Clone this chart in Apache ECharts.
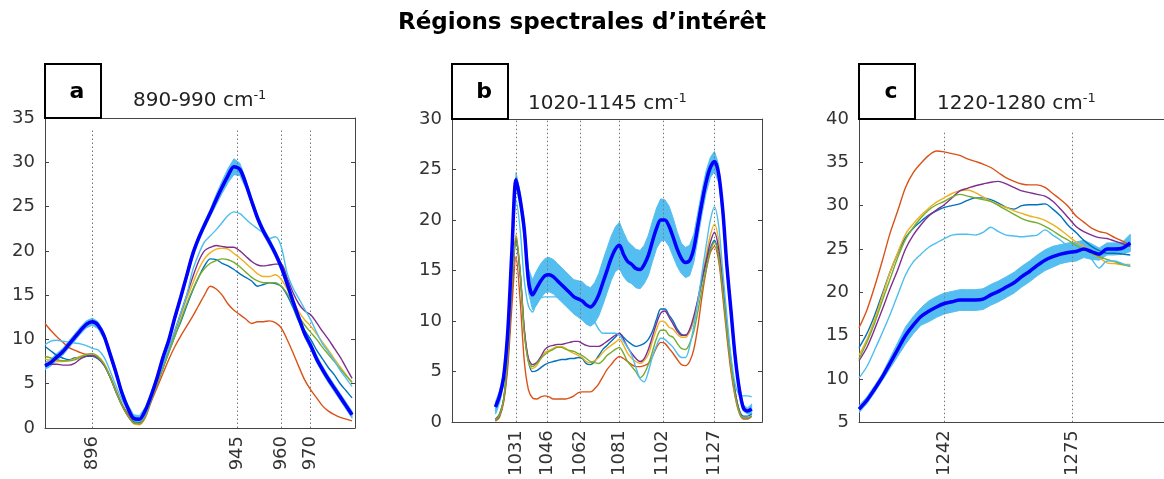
<!DOCTYPE html>
<html><head><meta charset="utf-8">
<script src="https://cdn.jsdelivr.net/npm/echarts@6/dist/echarts.min.js"></script>
<style>html,body{margin:0;padding:0;background:#fff}#c{width:1164px;height:479px}</style>
</head><body><div id="c"></div>
<script>
const FONT = 'DejaVu Sans';

// ---------- Panel a : 880-985 cm-1 ----------
const xA = [880,882,884,886,888,890,892,894,896,898,900,902,904,906,908,910,912,914,916,918,920,922,924,926,928,930,932,934,936,938,940,942,944,946,948,950,952,954,956,958,960,962,964,966,968,970,972,974,976,978,980,982,984];
const ticksA = [896, 945, 960, 970];
const blueA   = [9.2,8.7,8.2,7.9,7.7,7.9,8.0,8.1,8.1,7.8, 7.1,5.8,4.2,2.7,1.6,0.7,0.6,1.5,3.2,5.0, 6.8,8.6,10.4,12.0,13.8,15.5,17.0,18.3,19.1,19.0, 18.6,18.3,17.9,17.4,17.0,16.6,16.0,16.2,16.4,16.3, 16.0,15.0,13.6,12.0,11.0,10.0,8.8,7.8,6.8,6.0, 5.0,4.2,3.4];
const orangeA = [11.8,11.0,10.3,9.7,9.1,8.8,8.5,8.3,8.2,7.9, 7.2,5.8,4.3,2.7,1.6,0.6,0.4,1.2,3.0,4.6, 6.2,7.8,9.2,10.4,11.5,12.6,13.8,15.0,16.0,15.7, 15.0,14.0,13.3,12.8,12.3,11.8,12.0,12.0,12.1,11.9, 11.3,10.0,8.5,6.9,5.4,4.3,3.4,2.5,1.9,1.5, 1.2,1.0,0.8];
const yellowA = [7.8,7.6,7.5,7.5,7.6,7.8,8.1,8.3,8.4,8.1, 7.3,5.9,4.2,2.6,1.4,0.5,0.4,1.3,3.2,5.1, 7.0,8.9,10.8,12.7,14.6,16.3,17.9,19.1,19.8,20.2, 20.3,20.2,19.7,19.2,18.6,18.0,17.4,17.1,17.1,17.3, 16.8,15.7,14.4,13.1,12.2,11.5,10.6,9.7,8.8,7.8, 6.9,6.0,5.1];
const purpleA = [7.3,7.2,7.2,7.1,7.1,7.3,7.8,8.1,8.2,7.9, 7.1,5.8,4.1,2.6,1.4,0.6,0.5,1.4,3.2,5.1, 7.0,9.0,11.0,13.0,15.0,17.0,18.8,20.0,20.4,20.6, 20.5,20.4,20.4,20.0,19.4,18.8,18.4,18.3,18.4,18.5, 18.5,17.0,15.3,14.0,13.2,12.8,11.9,10.9,10.0,9.0, 8.0,6.8,5.6];
const greenA  = [8.1,7.9,7.7,7.6,7.6,7.7,8.0,8.3,8.4,8.0, 7.2,5.8,4.1,2.6,1.4,0.6,0.5,1.4,3.2,5.0, 6.8,8.6,10.4,12.2,14.0,15.6,17.0,18.0,18.6,18.9, 19.1,19.0,18.7,18.2,17.6,17.0,16.6,16.4,16.4,16.4, 16.0,15.2,14.0,12.6,11.6,10.8,10.0,9.1,8.3,7.5, 6.7,5.9,5.2];
const lightA  = [9.4,9.8,9.9,9.8,9.7,9.6,9.5,9.3,9.0,8.8, 8.0,6.5,4.8,3.2,2.0,1.0,0.8,1.6,3.4,5.3, 7.2,9.1,11.0,13.0,15.0,17.8,19.6,21.0,21.7,22.4, 23.2,24.0,24.4,24.2,23.6,23.0,22.5,22.0,21.4,21.6, 20.5,17.5,15.8,14.6,13.4,12.2,10.8,9.5,8.6,7.6, 6.5,5.6,4.7];
const meanA   = [7.0,7.4,8.0,8.6,9.4,10.2,11.0,11.7,12.0,11.6, 10.4,8.4,6.3,4.0,2.3,1.1,1.0,2.0,3.7,5.7, 8.0,10.0,12.5,14.8,17.2,19.6,21.4,22.9,24.3,25.8, 27.2,28.5,29.5,29.2,27.6,25.6,23.7,22.2,21.0,19.7, 18.2,16.3,14.3,12.4,10.6,9.3,7.8,6.6,5.5,4.5, 3.5,2.5,1.5];
const sdA     = [0.4,0.4,0.4,0.4,0.4,0.4,0.4,0.4,0.4,0.4, 0.4,0.4,0.4,0.4,0.4,0.4,0.4,0.4,0.4,0.4, 0.4,0.4,0.4,0.4,0.4,0.4,0.4,0.4,0.4,0.6, 0.7,0.8,0.9,0.7,0.5,0.4,0.4,0.4,0.4,0.4, 0.4,0.4,0.4,0.4,0.4,0.4,0.4,0.4,0.4,0.4, 0.4,0.4,0.4];

// ---------- Panel b : 1020-1145 cm-1 ----------
const xB = [1021,1023,1025,1027,1029,1031,1033,1035,1037,1039,1041,1043,1045,1047,1049,1051,1053,1055,1057,1059,1061,1063,1065,1067,1069,1071,1073,1075,1077,1079,1081,1083,1085,1087,1089,1091,1093,1095,1097,1099,1101,1103,1105,1107,1109,1111,1113,1115,1117,1119,1121,1123,1125,1127,1129,1131,1133,1135,1137,1139,1141,1143,1145];
const ticksB = [1031, 1046, 1062, 1081, 1102, 1127];
const blueB   = [0.3,0.8,2.3,6.5,13.0,18.0,14.5,9.0,6.0,5.0, 5.1,5.4,5.7,5.9,6.0,6.1,6.2,6.2,6.3,6.3, 6.4,6.3,5.8,5.7,6.0,6.6,7.2,7.6,8.0,8.4, 8.8,8.4,8.0,7.7,7.5,7.6,7.8,8.2,9.0,10.2, 11.2,11.2,10.6,10.0,9.2,8.7,8.6,9.0,10.2,12.0, 14.0,15.8,17.2,18.0,16.6,13.5,9.5,6.0,3.0,1.2, 0.6,0.6,0.8];
const orangeB = [0.1,0.5,2.0,5.5,11.5,16.4,12.0,6.0,3.2,2.4, 2.3,2.5,2.6,2.5,2.3,2.3,2.3,2.3,2.4,2.6, 2.9,3.0,3.0,3.0,3.3,3.8,4.5,5.2,5.7,6.2, 6.5,6.3,6.0,5.7,5.5,5.5,5.6,5.8,6.5,7.4, 7.9,7.8,7.3,6.8,6.2,5.7,5.6,6.0,7.2,9.5, 12.5,15.0,16.8,17.4,16.0,12.5,8.5,5.0,2.5,0.9, 0.3,0.3,0.6];
const yellowB = [0.2,0.7,2.3,6.5,13.5,18.6,15.0,9.0,6.0,5.3, 5.6,6.3,6.9,7.1,7.3,7.5,7.5,7.3,7.0,6.8, 6.6,6.4,6.0,5.9,6.1,6.4,6.9,7.3,7.6,7.9, 8.2,7.6,6.8,6.3,6.0,5.8,6.1,6.7,8.0,9.2, 10.0,9.9,9.4,9.2,8.7,8.4,8.4,9.0,10.2,12.0, 14.3,16.5,18.5,19.6,18.0,14.0,9.5,5.8,2.8,1.0, 0.4,0.4,0.6];
const purpleB = [0.2,0.7,2.2,6.2,13.0,18.2,14.8,9.2,6.3,5.7, 5.9,6.5,7.2,7.5,7.6,7.7,7.7,7.8,7.9,8.0, 8.0,7.8,7.6,7.5,7.5,7.5,7.7,8.0,8.3,8.6, 8.8,8.2,7.4,6.8,6.3,6.0,6.3,7.2,8.5,9.8, 10.8,11.0,10.4,9.7,9.0,8.6,8.6,9.2,10.5,12.2, 14.2,16.0,17.8,18.8,17.2,13.8,9.5,6.0,3.0,1.1, 0.4,0.4,0.6];
const greenB  = [0.2,0.7,2.2,6.5,13.5,18.4,14.8,8.8,6.0,5.5, 5.8,6.3,6.7,7.0,7.2,7.4,7.4,7.2,7.1,7.0, 6.8,6.6,6.3,6.0,5.9,5.8,6.1,6.6,6.9,7.2, 7.4,6.8,6.0,5.5,5.0,4.4,4.8,5.7,7.0,8.3, 9.1,9.1,8.6,8.4,7.8,7.3,7.2,7.8,9.0,11.0, 13.2,15.2,17.0,17.8,16.4,13.0,9.0,5.6,2.7,1.0, 0.4,0.4,0.6];
const lightB  = [0.8,2.0,4.0,8.0,16.0,22.0,19.0,14.0,11.5,10.9, 12.0,12.3,12.4,12.4,12.4,12.4,12.3,12.2,12.1,12.0, 11.8,11.5,11.0,10.4,9.9,9.2,8.8,8.8,8.8,8.8, 8.6,8.0,7.4,6.6,5.4,4.3,4.0,5.0,6.5,7.6, 8.3,8.2,7.8,7.4,6.8,6.4,6.4,7.5,9.5,12.0, 14.8,17.5,20.0,21.3,19.5,15.0,10.5,6.5,3.8,2.7, 2.6,2.6,2.5];
const meanB   = [1.5,2.6,4.5,9.0,17.0,24.0,22.0,19.0,14.0,12.6, 13.3,14.0,14.5,14.6,14.4,14.0,13.6,13.2,12.8,12.4, 12.2,12.0,11.6,11.4,11.8,12.6,13.8,15.0,16.2,17.1, 17.5,16.6,15.9,15.6,15.2,15.1,15.6,16.5,17.9,19.2, 20.0,20.0,19.4,18.3,17.1,16.2,15.8,16.0,17.2,19.5, 21.8,23.8,25.2,25.8,24.6,21.0,15.5,11.0,6.5,3.3, 1.4,1.1,1.3];
const sdB     = [0.5,0.5,0.5,0.5,0.6,0.7,0.7,0.9,1.2,1.5, 1.7,1.7,1.7,1.7,1.7,1.7,1.7,1.7,1.7,1.7, 1.8,1.9,1.9,1.9,2.0,2.1,2.2,2.2,2.2,2.2, 2.3,2.2,2.0,1.9,1.9,1.9,1.9,2.0,2.0,2.0, 2.1,2.0,2.0,1.9,1.7,1.5,1.5,1.5,1.4,1.3, 1.2,1.1,1.0,1.0,0.9,0.8,0.7,0.6,0.5,0.4, 0.3,0.3,0.5];

// ---------- Panel c : 1220-1290 cm-1 ----------
const xC = [1220,1222,1224,1226,1228,1230,1232,1234,1236,1238,1240,1242,1244,1246,1248,1250,1252,1254,1256,1258,1260,1262,1264,1266,1268,1270,1272,1274,1276,1278,1280,1282,1284,1286,1288,1290];
const ticksC = [1242, 1275];
const blueC   = [13.6,15.2,17.3,19.8,22.3,24.5,26.3,27.4,28.2,28.9, 29.4,29.8,30.0,30.2,30.6,30.9,30.9,30.7,30.3,29.8, 29.6,30.0,30.1,30.1,30.2,29.6,28.8,27.7,26.9,26.0, 25.3,24.8,24.5,24.5,24.4,24.3];
const orangeC = [15.9,17.9,20.6,23.6,26.8,29.4,32.1,33.8,34.9,35.8, 36.3,36.2,36.0,35.8,35.4,35.1,34.8,34.4,33.8,33.2, 32.8,32.5,32.4,32.4,32.1,31.4,30.7,29.9,28.8,28.1, 27.4,27.0,26.8,26.3,25.9,25.4];
const yellowC = [12.7,14.5,16.8,19.5,22.3,24.6,26.7,27.9,28.9,29.7, 30.4,30.9,31.4,31.7,31.8,31.5,31.0,30.5,30.1,29.8, 29.4,29.1,28.8,28.6,28.3,27.8,27.2,26.5,25.8,25.3, 24.5,24.0,23.4,23.3,23.2,23.2];
const purpleC = [12.1,13.6,15.7,18.0,20.4,22.6,25.0,26.6,27.8,28.8, 29.5,30.1,30.9,31.7,32.0,32.3,32.5,32.7,32.8,32.5, 32.1,31.7,31.5,31.3,31.1,30.5,29.6,28.6,27.6,27.0, 26.6,26.3,26.2,25.9,25.6,25.3];
const greenC  = [12.3,14.2,16.4,19.0,21.5,24.0,26.1,27.5,28.6,29.5, 30.1,30.5,31.0,31.3,31.1,30.9,30.7,30.5,30.0,29.5, 29.0,28.5,28.2,28.0,27.6,27.1,26.5,26.0,25.4,24.9, 24.5,24.1,23.8,23.5,23.2,23.0];
const lightC  = [10.1,11.4,13.3,15.3,17.4,19.7,22.0,23.5,24.4,25.2, 25.7,26.2,26.6,26.7,26.7,26.6,26.9,27.5,27.0,26.6, 26.5,26.4,26.5,26.6,27.2,26.6,26.0,25.3,24.8,24.4, 23.8,22.8,23.6,23.6,23.3,23.0];
const meanC   = [6.5,7.5,8.8,10.2,11.8,13.4,15.0,16.2,17.2,17.8, 18.3,18.7,18.9,19.1,19.1,19.1,19.2,19.7,20.1,20.6, 21.1,21.8,22.4,23.1,23.7,24.1,24.4,24.6,24.7,25.0, 24.7,24.4,25.0,25.0,25.1,25.7];
const sdC     = [0.4,0.4,0.4,0.4,0.6,0.8,1.0,1.0,1.0,1.2, 1.2,1.2,1.2,1.2,1.2,1.2,1.2,1.2,1.2,1.2, 1.2,1.2,1.2,1.2,1.2,1.2,1.1,1.1,1.1,1.0, 0.9,0.7,0.7,0.7,0.7,1.0];

const COLORS = ['#0072BD', '#D95319', '#EDB120', '#7E2F8E', '#77AC30', '#4DBEEE'];
const MEAN_COLOR = '#0000FF';
const BAND_COLOR = '#55BEF0';
const FRAME = '#444';

const panels = [
  { x: xA, lines: [blueA, orangeA, yellowA, purpleA, greenA, lightA], mean: meanA, sd: sdA, ticks: ticksA, vtop: 33.8,
    xmin: 880, xmax: 985, ymin: 0, ymax: 35, box: [45, 118, 310, 310], rightFrame: true, letter: 'a', sub: '890-990 cm', subPos: [133, 89] },
  { x: xB, lines: [blueB, orangeB, yellowB, purpleB, greenB, lightB], mean: meanB, sd: sdB, ticks: ticksB, vtop: 30,
    xmin: 1000, xmax: 1150, ymin: 0, ymax: 30, box: [452, 119, 310, 311], rightFrame: true, letter: 'b', sub: '1020-1145 cm', subPos: [528, 92] },
  // panel c runs past the right edge of the picture: only the visible part (to x=1164) is laid out
  { x: xC, lines: [blueC, orangeC, yellowC, purpleC, greenC, lightC], mean: meanC, sd: sdC, ticks: ticksC, vtop: 38.6,
    xmin: 1220, xmax: 1298.7, ymin: 5, ymax: 40, box: [859, 119, 305, 311], rightFrame: false, letter: 'c', sub: '1220-1280 cm', subPos: [937, 92] }
];

const grids = [], xAxes = [], yAxes = [], series = [], titles = [], graphics = [];

titles.push({
  text: 'Régions spectrales d\u2019intérêt', left: 'center', top: 12, padding: 0,
  textStyle: { fontFamily: FONT, fontWeight: 'bold', fontSize: 23, color: '#000' }
});

panels.forEach((p, i) => {
  const [gl, gt, gw, gh] = p.box;
  grids.push({ left: gl, top: gt, width: gw, height: gh, show: false });
  // bottom axis with rotated labels at the marked wavenumbers
  xAxes.push({
    gridIndex: i, type: 'value', min: p.xmin, max: p.xmax, position: 'bottom',
    axisLine: { show: true, lineStyle: { color: FRAME, width: 1 } }, axisTick: { show: false }, splitLine: { show: false },
    axisLabel: { rotate: 90, customValues: p.ticks, fontSize: 18, fontFamily: FONT, color: '#333', margin: 8,
                 formatter: v => String(v) }
  });
  // top frame line
  xAxes.push({
    gridIndex: i, type: 'value', min: p.xmin, max: p.xmax, position: 'top',
    axisLine: { show: true, onZero: false, lineStyle: { color: FRAME, width: 1 } }, axisTick: { show: false },
    splitLine: { show: false }, axisLabel: { show: false }
  });
  yAxes.push({
    gridIndex: i, type: 'value', min: p.ymin, max: p.ymax, interval: 5, position: 'left',
    axisLine: { show: true, onZero: false, lineStyle: { color: FRAME, width: 1 } }, splitLine: { show: false },
    axisTick: { show: true, inside: true, length: 4, lineStyle: { color: FRAME } },
    axisLabel: { fontSize: 18, fontFamily: FONT, color: '#333', margin: 10 }
  });
  yAxes.push({
    gridIndex: i, type: 'value', min: p.ymin, max: p.ymax, interval: 5, position: 'right',
    axisLine: { show: p.rightFrame, onZero: false, lineStyle: { color: FRAME, width: 1 } }, splitLine: { show: false },
    axisTick: { show: p.rightFrame, inside: true, length: 4, lineStyle: { color: FRAME } },
    axisLabel: { show: false }
  });
  const xi = 2 * i, yi = 2 * i;

  // shaded band (mean +/- spread) through the axis scales
  series.push({
    type: 'custom', xAxisIndex: xi, yAxisIndex: yi, z: 1, silent: true, clip: true,
    data: [[p.xmin, p.ymin]],
    renderItem: (params, api) => {
      const pts = [];
      for (let k = 0; k < p.x.length; k++) pts.push(api.coord([p.x[k], p.mean[k] + p.sd[k]]));
      for (let k = p.x.length - 1; k >= 0; k--) pts.push(api.coord([p.x[k], p.mean[k] - p.sd[k]]));
      return { type: 'polygon', shape: { points: pts }, style: { fill: BAND_COLOR, stroke: BAND_COLOR, lineWidth: 1 } };
    }
  });

  // dotted guide lines
  series.push({
    type: 'line', xAxisIndex: xi, yAxisIndex: yi, z: 2, silent: true, symbol: 'none',
    data: p.x.map((x, k) => [x, p.mean[k]]), lineStyle: { opacity: 0, width: 0 },
    markLine: {
      silent: true, symbol: ['none', 'none'], z: 2, animation: false,
      label: { show: false },
      lineStyle: { type: [1.5, 2.5], color: '#777', width: 1 },
      data: p.ticks.map(v => [{ coord: [v, p.ymin] }, { coord: [v, p.vtop] }])
    }
  });

  p.lines.forEach((arr, j) => {
    series.push({
      type: 'line', xAxisIndex: xi, yAxisIndex: yi, z: 3, silent: true,
      symbol: 'none', smooth: 0.3,
      data: p.x.map((x, k) => [x, arr[k]]),
      lineStyle: { color: COLORS[j], width: 1.4 }
    });
  });

  series.push({
    type: 'line', xAxisIndex: xi, yAxisIndex: yi, z: 4, silent: true,
    symbol: 'none', smooth: 0.3,
    data: p.x.map((x, k) => [x, p.mean[k]]),
    lineStyle: { color: MEAN_COLOR, width: 3.5 }
  });

  titles.push({
    text: '{m|' + p.sub + '}{s|-1}', left: p.subPos[0], top: p.subPos[1], padding: 0,
    textStyle: {
      fontWeight: 'normal',
      rich: {
        m: { fontSize: 20, fontFamily: FONT, fontWeight: 'normal', color: '#222', lineHeight: 24 },
        s: { fontSize: 13, fontFamily: FONT, fontWeight: 'normal', color: '#222', verticalAlign: 'top', lineHeight: 14 }
      }
    }
  });

  graphics.push({
    type: 'rect', shape: { x: gl, y: 64, width: 56, height: gt - 64 },
    style: { fill: '#fff', stroke: '#000', lineWidth: 2 }, z: 10
  });
  graphics.push({
    type: 'text', x: gl + 32, y: 92, z: 11,
    style: { text: p.letter, fontFamily: FONT, fontWeight: 'bold', fontSize: 22, fill: '#000', textAlign: 'center', textVerticalAlign: 'middle' }
  });
});

const chart = echarts.init(document.getElementById('c'), null, { renderer: 'canvas' });
chart.setOption({
  animation: false,
  backgroundColor: '#fff',
  title: titles,
  grid: grids,
  xAxis: xAxes,
  yAxis: yAxes,
  series: series,
  graphic: graphics
});
</script>
</body></html>
